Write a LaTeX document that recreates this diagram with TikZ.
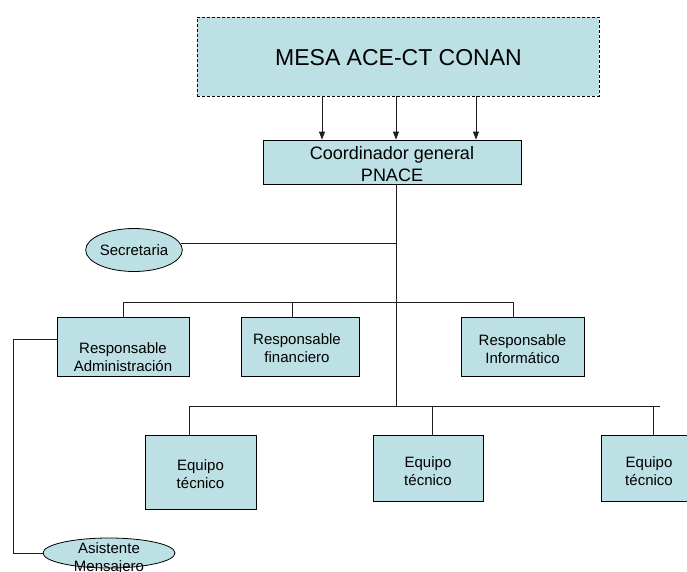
\documentclass[tikz,border=0pt]{standalone}
\usepackage{fontspec}
\setmainfont{Liberation Sans}
\usetikzlibrary{arrows.meta,shapes.geometric}
\definecolor{boxfill}{RGB}{188,224,228}
\definecolor{linec}{RGB}{30,30,30}
\begin{document}
\begin{tikzpicture}[x=1pt,y=-1pt,
  box/.style={draw=black, fill=boxfill, line width=0.8pt, inner sep=0pt},
  dashbox/.style={box, dash pattern=on 3pt off 2pt},
  oval/.style={ellipse, draw=black, fill=boxfill, line width=0.8pt, inner sep=0pt},
  txt/.style={align=center, inner sep=0pt, font=\fontsize{15}{18}\selectfont},
  conn/.style={draw=linec, line width=0.8pt},
  arr/.style={conn, -{Triangle[width=6pt,length=8pt]}}]
\useasboundingbox (0,0) rectangle (687,571);
\clip (0,0) rectangle (687,571);

% boxes
\node[dashbox, minimum width=402pt, minimum height=79pt] (mesa) at (398,56.5) {};
\node[inner sep=0pt, font=\fontsize{23}{26}\selectfont] (mesat) at (398.5,58) {MESA ACE-CT CONAN};

\node[box, minimum width=258pt, minimum height=44pt] (coord) at (392,162) {};
\node[txt, font=\fontsize{18}{22}\selectfont] (coordt) at (392,164) {Coordinador general\\PNACE};

\node[oval, minimum width=82pt, minimum height=43pt, font=\fontsize{15}{18}\selectfont] (sec) at (134,250) {Secretaria};

\node[box, minimum width=132pt, minimum height=59pt] (adm) at (123,346.5) {};
\node[txt] (admt) at (123,357.5) {Responsable\\Administración};

\node[box, minimum width=118pt, minimum height=59pt] (fin) at (300,346.5) {};
\node[txt] (fint) at (297,348.5) {Responsable\\financiero};

\node[box, minimum width=123pt, minimum height=59pt] (inf) at (522.5,346.5) {};
\node[txt] (inft) at (522.5,348.8) {Responsable\\Informático};

\node[box, minimum width=111pt, minimum height=74pt] (eq1) at (200.5,472) {};
\node[txt] (eq1t) at (200.5,474) {Equipo\\técnico};

\node[box, minimum width=110pt, minimum height=66pt] (eq2) at (428,468) {};
\node[txt] (eq2t) at (428,471.5) {Equipo\\técnico};

\node[box, minimum width=110pt, minimum height=66pt] (eq3) at (656,468) {};
\node[txt] (eq3t) at (649,471.5) {Equipo\\técnico};

\node[oval, minimum width=132pt, minimum height=30pt] (asis) at (109,553) {};
\node[txt] (asist) at (109,559) {Asistente\\Mensajero};

% helper coordinates
\coordinate (a1) at (322,0);
\coordinate (a2) at (396,0);
\coordinate (a3) at (476,0);
\coordinate (t) at (396,0);
\coordinate (tend) at (396,406);
\coordinate (rb) at (0,302);
\coordinate (d2) at (292,0);
\coordinate (d3) at (513,0);
\coordinate (eb) at (0,406);
\coordinate (e1) at (189,0);
\coordinate (e2) at (432,0);
\coordinate (e3) at (653,0);
\coordinate (eend) at (660,0);
\coordinate (ay) at (0,339);
\coordinate (lx) at (13,0);

% arrows from MESA
\draw[arr] (mesa.south -| a1) -- (coord.north -| a1);
\draw[arr] (mesa.south -| a2) -- (coord.north -| a2);
\draw[arr] (mesa.south -| a3) -- (coord.north -| a3);

% trunk
\draw[conn] (coord.south -| t) -- (tend);

% secretaria
\draw[conn] (sec.8) -- (sec.8 -| t);

% responsables bus
\draw[conn] (adm.north) -- (adm.north |- rb) -- (rb -| d3) -- (inf.north -| d3);
\draw[conn] (rb -| d2) -- (fin.north -| d2);

% equipos bus
\draw[conn] (eq1.north -| e1) -- (e1 |- eb) -- (eb -| eend);
\draw[conn] (eb -| e2) -- (eq2.north -| e2);
\draw[conn] (eb -| e3) -- (eq3.north -| e3);

% admin to asistente
\draw[conn] (adm.west |- ay) -| (lx |- asis.west) -- (asis.west);
\end{tikzpicture}
\end{document}
